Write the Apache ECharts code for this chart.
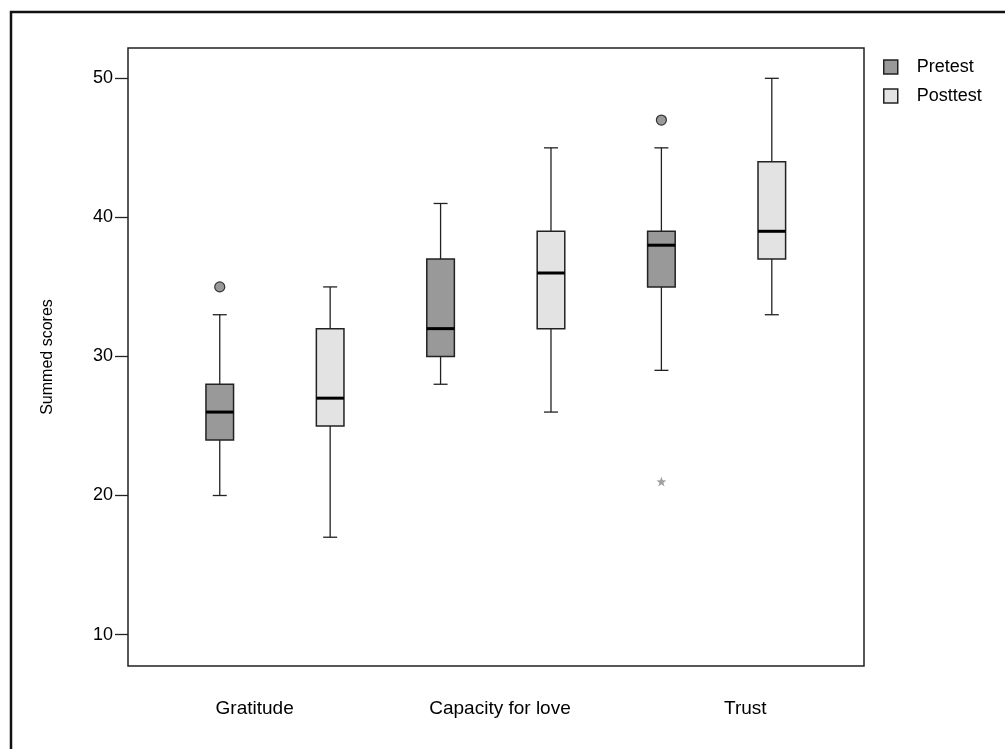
<!DOCTYPE html>
<html>
<head>
<meta charset="utf-8">
<script src="https://cdn.jsdelivr.net/npm/echarts@6/dist/echarts.min.js"></script>
<style>
  html, body { margin: 0; padding: 0; background: #fff; }
  #chart { width: 1005px; height: 749px; }
</style>
</head>
<body>
<div id="chart"></div>
<script>
// ---- data ----
const categories = ['Gratitude', 'Capacity for love', 'Trust'];
const seriesNames = ['Pretest', 'Posttest'];
// [min, Q1, median, Q3, max]
const pretest = [[20, 24, 26, 28, 33], [28, 30, 32, 37, 41], [29, 35, 38, 39, 45]];
const posttest = [[17, 25, 27, 32, 35], [26, 32, 36, 39, 45], [33, 37, 39, 44, 50]];
// [categoryIndex, value]
const pretestOutliers = [[0, 35], [2, 47]];
const pretestExtremes = [[2, 21]];
const yTicks = [10, 20, 30, 40, 50];

// ---- helpers ----
const FONT = "'Liberation Sans', Arial, Helvetica, sans-serif";
const fills = ['#999999', '#e3e3e3'];
function slot(catIdx, groupIdx) { return catIdx * 2 + groupIdx + 1; }
function boxData(arr, g) { return arr.map((d, i) => [slot(i, g)].concat(d)); }
function pointData(arr, g) { return arr.map(d => [slot(d[0], g), d[1]]); }

function renderBox(fill) {
  return function (params, api) {
    const x = api.value(0);
    const pMin = api.coord([x, api.value(1)]);
    const pQ1 = api.coord([x, api.value(2)]);
    const pMed = api.coord([x, api.value(3)]);
    const pQ3 = api.coord([x, api.value(4)]);
    const pMax = api.coord([x, api.value(5)]);
    const cx = pMed[0];
    const hw = 13.8, cap = 7;
    const lineStyle = { stroke: '#222', lineWidth: 1.3 };
    return {
      type: 'group',
      children: [
        { type: 'line', shape: { x1: cx, y1: pMax[1], x2: cx, y2: pQ3[1] }, style: lineStyle },
        { type: 'line', shape: { x1: cx, y1: pQ1[1], x2: cx, y2: pMin[1] }, style: lineStyle },
        { type: 'line', shape: { x1: cx - cap, y1: pMax[1], x2: cx + cap, y2: pMax[1] }, style: lineStyle },
        { type: 'line', shape: { x1: cx - cap, y1: pMin[1], x2: cx + cap, y2: pMin[1] }, style: lineStyle },
        { type: 'rect', shape: { x: cx - hw, y: pQ3[1], width: hw * 2, height: pQ1[1] - pQ3[1] },
          style: { fill: fill, stroke: '#222', lineWidth: 1.5 } },
        { type: 'line', shape: { x1: cx - hw, y1: pMed[1], x2: cx + hw, y2: pMed[1] },
          style: { stroke: '#000', lineWidth: 3 } }
      ]
    };
  };
}

const chart = echarts.init(document.getElementById('chart'), null, { renderer: 'canvas' });
const option = {
  backgroundColor: '#ffffff',
  animation: false,
  textStyle: { fontFamily: FONT },
  graphic: [{
    type: 'rect', left: 8.5, top: 9.5, z: 100,
    shape: { x: 0, y: 0, width: 1200, height: 1000 },
    style: { fill: 'none', stroke: '#111', lineWidth: 2.5 }
  }],
  legend: {
    orient: 'vertical',
    left: 878, top: 53,
    itemWidth: 14, itemHeight: 14, itemGap: 11,
    icon: 'rect',
    textStyle: { fontSize: 18, color: '#000', fontFamily: FONT, padding: [0, 0, 0, 14] },
    data: seriesNames.map((n, i) => ({
      name: n,
      itemStyle: { color: fills[i], borderColor: '#222', borderWidth: 1.5 }
    }))
  },
  grid: {
    left: 128, top: 48, right: 141, bottom: 83,
    show: true, borderColor: '#222', borderWidth: 1.5, backgroundColor: 'transparent'
  },
  xAxis: [{
    type: 'category',
    data: categories,
    axisLine: { show: false },
    axisTick: { show: false },
    axisLabel: { fontSize: 19, color: '#000', margin: 33, fontFamily: FONT, padding: [0, 0, 0, 8] }
  }, {
    type: 'value',
    min: 0.169, max: 6.835,
    show: false
  }],
  yAxis: {
    type: 'value',
    min: 7.74, max: 52.18,
    name: 'Summed scores',
    nameLocation: 'middle',
    nameGap: 72,
    nameRotate: 90,
    nameTextStyle: { fontSize: 16, color: '#000', fontFamily: FONT },
    axisLine: { show: false },
    splitLine: { show: false },
    axisTick: { show: true, length: 13, customValues: yTicks, lineStyle: { color: '#222', width: 1.3 } },
    axisLabel: { fontSize: 18, color: '#000', margin: 15, customValues: yTicks, fontFamily: FONT }
  },
  series: [
    {
      name: seriesNames[0], type: 'custom', xAxisIndex: 1,
      itemStyle: { color: fills[0] },
      encode: { x: 0, y: [1, 2, 3, 4, 5] },
      renderItem: renderBox(fills[0]),
      data: boxData(pretest, 0)
    },
    {
      name: seriesNames[1], type: 'custom', xAxisIndex: 1,
      itemStyle: { color: fills[1] },
      encode: { x: 0, y: [1, 2, 3, 4, 5] },
      renderItem: renderBox(fills[1]),
      data: boxData(posttest, 1)
    },
    {
      name: 'Pretest outliers', type: 'scatter', xAxisIndex: 1,
      symbol: 'circle', symbolSize: 10,
      itemStyle: { color: '#999999', borderColor: '#333', borderWidth: 1.2, opacity: 1 },
      data: pointData(pretestOutliers, 0)
    },
    {
      name: 'Pretest extremes', type: 'scatter', xAxisIndex: 1,
      symbol: 'path://M0,-10 L2.3,-3.2 L9.5,-3.1 L3.7,1.2 L5.9,8.1 L0,4 L-5.9,8.1 L-3.7,1.2 L-9.5,-3.1 L-2.3,-3.2 Z',
      symbolSize: 10,
      itemStyle: { color: '#a0a0a0', opacity: 1 },
      data: pointData(pretestExtremes, 0)
    }
  ]
};
chart.setOption(option);
</script>
</body>
</html>
